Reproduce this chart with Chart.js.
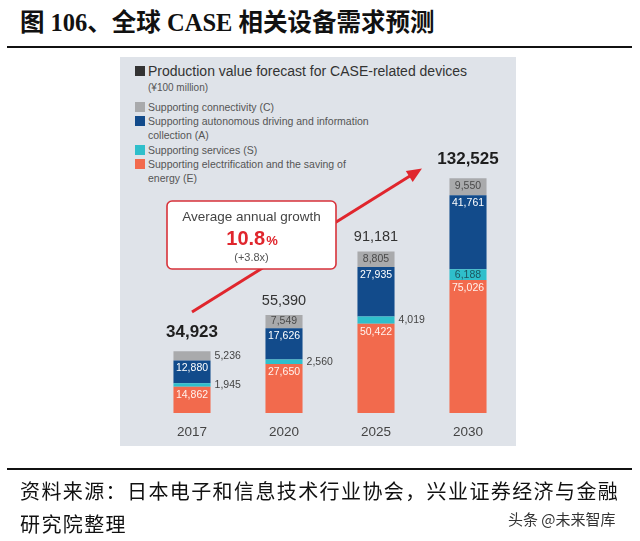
<!DOCTYPE html>
<html>
<head>
<meta charset="utf-8">
<script src="https://cdn.jsdelivr.net/npm/chart.js@4.4.1/dist/chart.umd.min.js"></script>
<style>
body { margin:0; width:640px; height:541px; position:relative; background:#fff; overflow:hidden; }
#title { position:absolute; left:20px; top:3px; font-family:"Liberation Serif","Noto Sans CJK SC",serif; font-weight:bold; font-size:24.5px; color:#111; white-space:nowrap; }
.rule { position:absolute; left:7px; width:625px; height:2px; background:#111; }
#panel { position:absolute; left:120px; top:57px; width:396px; height:389px; background:#dfe3e9; }
#legendTitle { position:absolute; left:135px; top:63px; font-family:"Liberation Sans",Arial,sans-serif; font-size:14px; color:#333; white-space:nowrap; }
#legendTitle span.sq { display:inline-block; width:10px; height:10px; background:#333; margin-right:3px; }
#legendUnit { position:absolute; left:148px; top:82px; font-family:"Liberation Sans",Arial,sans-serif; font-size:10px; color:#555; }
#legend { position:absolute; left:135px; top:100px; width:240px; font-family:"Liberation Sans",Arial,sans-serif; font-size:10.5px; line-height:14.2px; color:#555; }
#legend .item { position:relative; padding-left:13px; }
#legend .sw { position:absolute; left:0; top:2px; width:10px; height:10px; }
canvas { position:absolute; left:0; top:0; }
#source { position:absolute; left:20px; top:474px; font-family:"Noto Sans CJK SC",sans-serif; font-size:20px; line-height:33px; letter-spacing:1.4px; color:#111; width:620px; }
#mark { position:absolute; left:508px; top:508px; font-family:"Noto Sans CJK SC",sans-serif; font-size:15px; color:#333; }
</style>
</head>
<body>
<div id="title">图 106、全球 CASE 相关设备需求预测</div>
<div class="rule" style="top:46px"></div>
<div id="panel"></div>
<div id="legendTitle"><span class="sq"></span>Production value forecast for CASE-related devices</div>
<div id="legendUnit">(¥100 million)</div>
<div id="legend"></div>
<canvas id="chart" width="640" height="541"></canvas>
<div class="rule" style="top:468px"></div>
<div id="source">资料来源：日本电子和信息技术行业协会，兴业证券经济与金融<br>研究院整理</div>
<div id="mark">头条 @未来智库</div>
<script>
var years = ["2017", "2020", "2025", "2030"];
var energyE = [14862, 27650, 50422, 75026];
var servicesS = [1945, 2560, 4019, 6188];
var autonomousA = [12880, 17626, 27935, 41761];
var connectivityC = [5236, 7549, 8805, 9550];
var totals = [34923, 55390, 91181, 132525];

var seriesNames = ["Supporting electrification and the saving of energy (E)", "Supporting services (S)", "Supporting autonomous driving and information collection (A)", "Supporting connectivity (C)"];
var seriesColors = ["#f26a4d", "#2fbfcb", "#124b8b", "#a9aaac"];
var labelColors = ["#fff3ee", "#1d5660", "#ffffff", "#4a4a4a"];

// legend, top entry first like the picture
var legendBox = document.getElementById("legend");
for (let i = seriesNames.length - 1; i >= 0; i--) {
    let item = document.createElement("div");
    item.className = "item";
    let sw = document.createElement("span");
    sw.className = "sw";
    sw.style.background = seriesColors[i];
    item.appendChild(sw);
    item.appendChild(document.createTextNode(seriesNames[i]));
    legendBox.appendChild(item);
}

var FONT = '"Liberation Sans", Arial, sans-serif';

var segLabels = {
    id: "segLabels",
    afterDatasetsDraw: function (chart) {
        let ctx = chart.ctx;
        let xs = chart.scales.x, ys = chart.scales.y;
        ctx.save();
        ctx.textBaseline = "middle";

        // segment values
        ctx.font = "10.5px " + FONT;
        chart.data.datasets.forEach(function (ds, di) {
            let meta = chart.getDatasetMeta(di);
            meta.data.forEach(function (bar, i) {
                let h = bar.base - bar.y;
                let txt = ds.data[i].toLocaleString("en-US");
                if (h < 10) {
                    ctx.fillStyle = "#444";
                    ctx.textAlign = "left";
                    ctx.fillText(txt, bar.x + bar.width / 2 + 4, bar.y + h / 2);
                } else {
                    ctx.fillStyle = labelColors[di];
                    ctx.textAlign = "center";
                    ctx.fillText(txt, bar.x, bar.y + Math.min(8, h / 2));
                }
            });
        });

        // totals above each stack
        let topMeta = chart.getDatasetMeta(chart.data.datasets.length - 1);
        topMeta.data.forEach(function (bar, i) {
            let big = (i === 0 || i === totals.length - 1);
            ctx.textAlign = "center";
            ctx.fillStyle = big ? "#1e1e1e" : "#333";
            ctx.font = (big ? "bold 17px " : "14.5px ") + FONT;
            ctx.fillText(totals[i].toLocaleString("en-US"), bar.x, bar.y - (big ? 19 : 14));
        });

        // year labels
        ctx.font = "13.5px " + FONT;
        ctx.fillStyle = "#444";
        years.forEach(function (y, i) {
            ctx.fillText(y, xs.getPixelForValue(i), 432);
        });

        // growth arrow
        let x0 = xs.getPixelForValue(0), y0 = ys.getPixelForValue(57000);
        let x1 = xs.getPixelForValue(2.5), y1 = ys.getPixelForValue(138000);
        let ang = Math.atan2(y1 - y0, x1 - x0);
        ctx.strokeStyle = "#e0262d";
        ctx.fillStyle = "#e0262d";
        ctx.lineWidth = 3;
        ctx.beginPath();
        ctx.moveTo(x0, y0);
        ctx.lineTo(x1 - 10 * Math.cos(ang), y1 - 10 * Math.sin(ang));
        ctx.stroke();
        ctx.beginPath();
        ctx.moveTo(x1, y1);
        ctx.lineTo(x1 - 15 * Math.cos(ang) + 6.5 * Math.sin(ang), y1 - 15 * Math.sin(ang) - 6.5 * Math.cos(ang));
        ctx.lineTo(x1 - 15 * Math.cos(ang) - 6.5 * Math.sin(ang), y1 - 15 * Math.sin(ang) + 6.5 * Math.cos(ang));
        ctx.closePath();
        ctx.fill();

        // growth box
        let bx = 167, by = 201, bw = 169, bh = 68;
        ctx.beginPath();
        ctx.roundRect(bx, by, bw, bh, 5);
        ctx.fillStyle = "#fff";
        ctx.fill();
        ctx.lineWidth = 1.6;
        ctx.strokeStyle = "#d8323a";
        ctx.stroke();
        let cx = bx + bw / 2;
        ctx.textAlign = "center";
        ctx.fillStyle = "#444";
        ctx.font = "13.5px " + FONT;
        ctx.fillText("Average annual growth", cx, 217);
        ctx.fillStyle = "#e0262d";
        ctx.font = "bold 20px " + FONT;
        let w1 = ctx.measureText("10.8").width;
        ctx.font = "bold 13px " + FONT;
        let w2 = ctx.measureText("%").width;
        ctx.textAlign = "left";
        ctx.font = "bold 20px " + FONT;
        ctx.fillText("10.8", cx - (w1 + w2) / 2, 239);
        ctx.font = "bold 13px " + FONT;
        ctx.fillText("%", cx - (w1 + w2) / 2 + w1 + 1, 241);
        ctx.textAlign = "center";
        ctx.fillStyle = "#555";
        ctx.font = "11px " + FONT;
        ctx.fillText("(+3.8x)", cx, 258);

        ctx.restore();
    }
};

var seriesData = [energyE, servicesS, autonomousA, connectivityC];
var datasets = [];
for (let i = 0; i < seriesData.length; i++) {
    datasets.push({
        label: seriesNames[i],
        data: seriesData[i],
        backgroundColor: seriesColors[i],
        borderWidth: 0,
        categoryPercentage: 1,
        barPercentage: 0.403
    });
}

new Chart(document.getElementById("chart").getContext("2d"), {
    type: "bar",
    data: { labels: years, datasets: datasets },
    options: {
        responsive: false,
        animation: false,
        layout: { padding: { left: 146, right: 126, top: 165, bottom: 128 } },
        plugins: { legend: { display: false }, tooltip: { enabled: false } },
        scales: {
            x: { stacked: true, display: false },
            y: { stacked: true, display: false, min: 0, max: 140000 }
        }
    },
    plugins: [segLabels]
});
</script>
</body>
</html>
